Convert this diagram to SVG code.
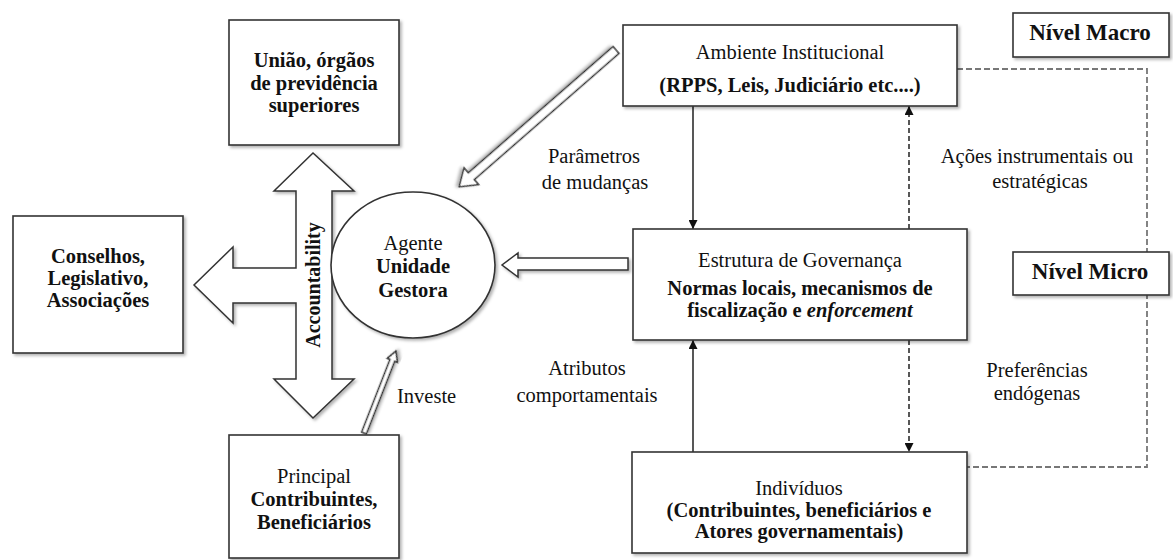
<svg xmlns="http://www.w3.org/2000/svg" width="1173" height="560" viewBox="0 0 1173 560">
<style>
text{font-family:"Liberation Serif","Times New Roman",serif;font-size:20.5px;fill:#111;}
.b{font-weight:bold;}
.c{text-anchor:middle;}
.box{fill:#fff;stroke:#333;stroke-width:1.6;filter:url(#sh);}
.hollow{fill:#fff;stroke:#333;stroke-width:1.5;filter:url(#sh);}
.solid{fill:none;stroke:#111;stroke-width:1.4;}
.dash{fill:none;stroke:#111;stroke-width:1.4;stroke-dasharray:5 3;}
.gray{fill:none;stroke:#777;stroke-width:1.8;stroke-dasharray:6 3;}
</style>
<defs>
<filter id="sh" x="-10%" y="-10%" width="130%" height="130%">
<feDropShadow dx="2" dy="2" stdDeviation="1.5" flood-color="#000" flood-opacity="0.3"/>
</filter>
<marker id="ah" viewBox="0 0 10 10" refX="10" refY="5" markerWidth="9" markerHeight="9" markerUnits="userSpaceOnUse" orient="auto">
<path d="M0,0 L10,5 L0,10 z" fill="#111"/>
</marker>
</defs>
<rect width="1173" height="560" fill="#fff"/>

<g id="connectors">
<path class="gray" d="M957,69 H1147 V467 H967"/>
<path class="solid" d="M693,106 V229" marker-end="url(#ah)"/>
<path class="solid" d="M693,452 V340" marker-end="url(#ah)"/>
<path class="dash" d="M909,229 V106" marker-end="url(#ah)"/>
<path class="dash" d="M909,340 V452" marker-end="url(#ah)"/>
<path id="arrow-governanca" class="hollow" d="M628,258 H518 V253 L502,265 L518,277 V270 H628 Z"/>
<path id="arrow-ambiente" class="hollow" transform="translate(616,50) rotate(138.9)" d="M0,-4.5 H192 V-11 L208,0 L192,11 V4.5 H0 Z"/>
<path id="arrow-investe" class="hollow" transform="translate(364,433) rotate(-68.7)" d="M0,-2.5 H78 V-5.5 L88,0 L78,5.5 V2.5 H0 Z"/>
<path id="accountability-arrow" class="hollow" d="M313,153 L354,191 L332,191 L332,379 L354,379 L313,418 L274,379 L296,379 L296,303 L233,303 L233,323 L194,285 L233,247 L233,268 L296,268 L296,191 L274,191 Z"/>
<text class="b c" font-size="20" transform="translate(320,285) rotate(-90)" style="font-size:20px">Accountability</text>
</g>

<g id="uniao">
<rect class="box" x="229" y="20" width="170" height="125"/>
<text class="b c" x="314" y="67">União, órgãos</text>
<text class="b c" x="314" y="90">de previdência</text>
<text class="b c" x="314" y="112">superiores</text>
</g>

<g id="conselhos">
<rect class="box" x="13" y="216" width="170" height="137"/>
<text class="b c" x="98" y="263">Conselhos,</text>
<text class="b c" x="98" y="285">Legislativo,</text>
<text class="b c" x="98" y="307">Associações</text>
</g>

<g id="agente">
<ellipse class="box" cx="413" cy="265" rx="82" ry="73"/>
<text class="c" x="413" y="250">Agente</text>
<text class="b c" x="413" y="273">Unidade</text>
<text class="b c" x="413" y="297">Gestora</text>
</g>

<g id="principal">
<rect class="box" x="229" y="435" width="170" height="123"/>
<text class="c" x="314" y="483">Principal</text>
<text class="b c" x="314" y="506">Contribuintes,</text>
<text class="b c" x="314" y="529">Beneficiários</text>
</g>

<g id="ambiente">
<rect class="box" x="623" y="25" width="334" height="81"/>
<text class="c" x="790" y="59">Ambiente Institucional</text>
<text class="b c" x="790" y="92">(RPPS, Leis, Judiciário etc....)</text>
</g>

<g id="estrutura">
<rect class="box" x="633" y="229" width="334" height="111"/>
<text class="c" x="800" y="267">Estrutura de Governança</text>
<text class="b c" x="800" y="295">Normas locais, mecanismos de</text>
<text class="b c" x="800" y="317">fiscalização e <tspan font-style="italic">enforcement</tspan></text>
</g>

<g id="individuos">
<rect class="box" x="632" y="452" width="335" height="101"/>
<text class="c" x="799" y="495">Indivíduos</text>
<text class="b c" x="799" y="517">(Contribuintes, beneficiários e</text>
<text class="b c" x="799" y="538">Atores governamentais)</text>
</g>

<g id="nivel-macro">
<rect class="box" x="1013" y="13" width="156" height="44"/>
<text class="b c" x="1090" y="40" style="font-size:23px">Nível Macro</text>
</g>

<g id="nivel-micro">
<rect class="box" x="1013" y="252" width="156" height="43"/>
<text class="b c" x="1090" y="279" style="font-size:23px">Nível Micro</text>
</g>

<g id="labels">
<text class="c" x="594" y="163">Parâmetros</text>
<text class="c" x="595" y="189">de mudanças</text>
<text class="c" x="587" y="375">Atributos</text>
<text class="c" x="587" y="402">comportamentais</text>
<text x="397" y="403">Investe</text>
<text class="c" x="1037" y="163">Ações instrumentais ou</text>
<text class="c" x="1040" y="188">estratégicas</text>
<text class="c" x="1037" y="377">Preferências</text>
<text class="c" x="1037" y="400">endógenas</text>
</g>
</svg>
